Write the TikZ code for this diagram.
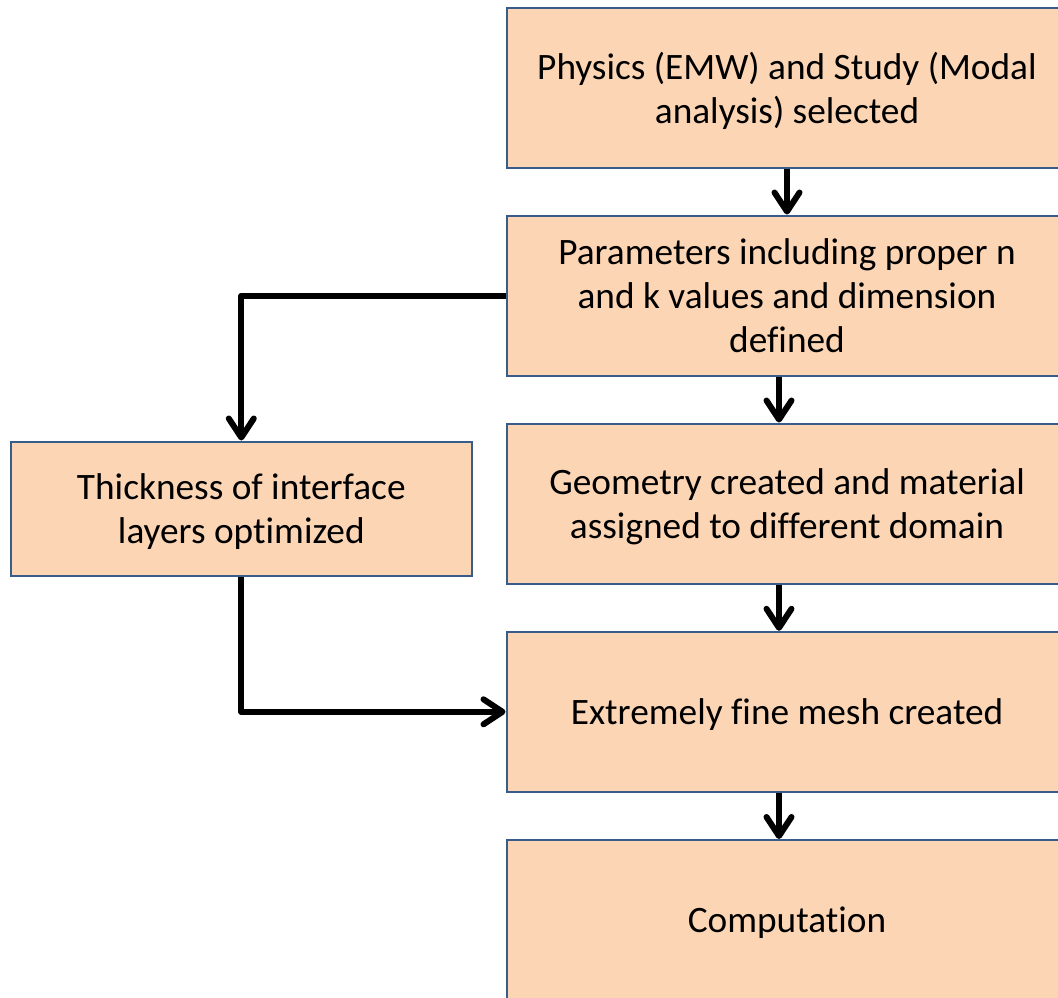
\documentclass[tikz,border=0pt]{standalone}
\usepackage{fontspec}
\setmainfont[Ligatures=NoCommon]{Carlito}
\usetikzlibrary{arrows.meta}

\definecolor{boxfill}{RGB}{252,213,181}
\definecolor{boxline}{RGB}{56,93,138}

\tikzset{
    stepbox/.style={draw=boxline, line width=2pt, fill=boxfill, inner sep=0pt,
        minimum width=561pt, minimum height=160pt, align=center, text depth=0pt,
        font=\fontsize{37.3}{44}\selectfont},
    flow/.style={line width=6pt, line join=round,
        -{Straight Barb[length=19pt, width=25pt, line width=6pt, round]}}
}

\begin{document}
\begin{tikzpicture}[x=1pt, y=1pt]
            \useasboundingbox ( 0, 0 ) rectangle ( 1058, -997 );
            \clip ( 0, 0 ) rectangle ( 1058, -997 );

            % блоки
            \node [stepbox] (physics) at ( 787, -87.5 ) {Physics (EMW) and Study (Modal\\analysis) selected};
            \node [stepbox] (params) at ( 787, -295.5 ) {Parameters including proper n\\and k values and dimension\\defined};
            \node [stepbox] (geometry) at ( 787, -503.5 ) {Geometry created and material\\assigned to different domain};
            \node [stepbox] (mesh) at ( 787, -711.8 ) {Extremely fine mesh created};
            \node [stepbox] (compute) at ( 787, -920 ) {Computation};
            \node [stepbox, minimum width=461pt, minimum height=134pt] (thickness) at ( 241.3, -508.5 ) {Thickness of interface\\layers optimized};

            % стрелки
            \draw [flow] (physics.south) -- (params.north);
            \draw [flow] ([xshift=-8pt]params.south) -- ([xshift=-8pt]geometry.north);
            \draw [flow] ([xshift=-8pt]geometry.south) -- ([xshift=-8pt]mesh.north);
            \draw [flow] ([xshift=-8pt]mesh.south) -- ([xshift=-8pt]compute.north);

            % обходной путь
            \draw [flow] (params.west) -| (thickness.north);
            \draw [flow] (thickness.south) |- (mesh.west);
        \end{tikzpicture}
\end{document}
